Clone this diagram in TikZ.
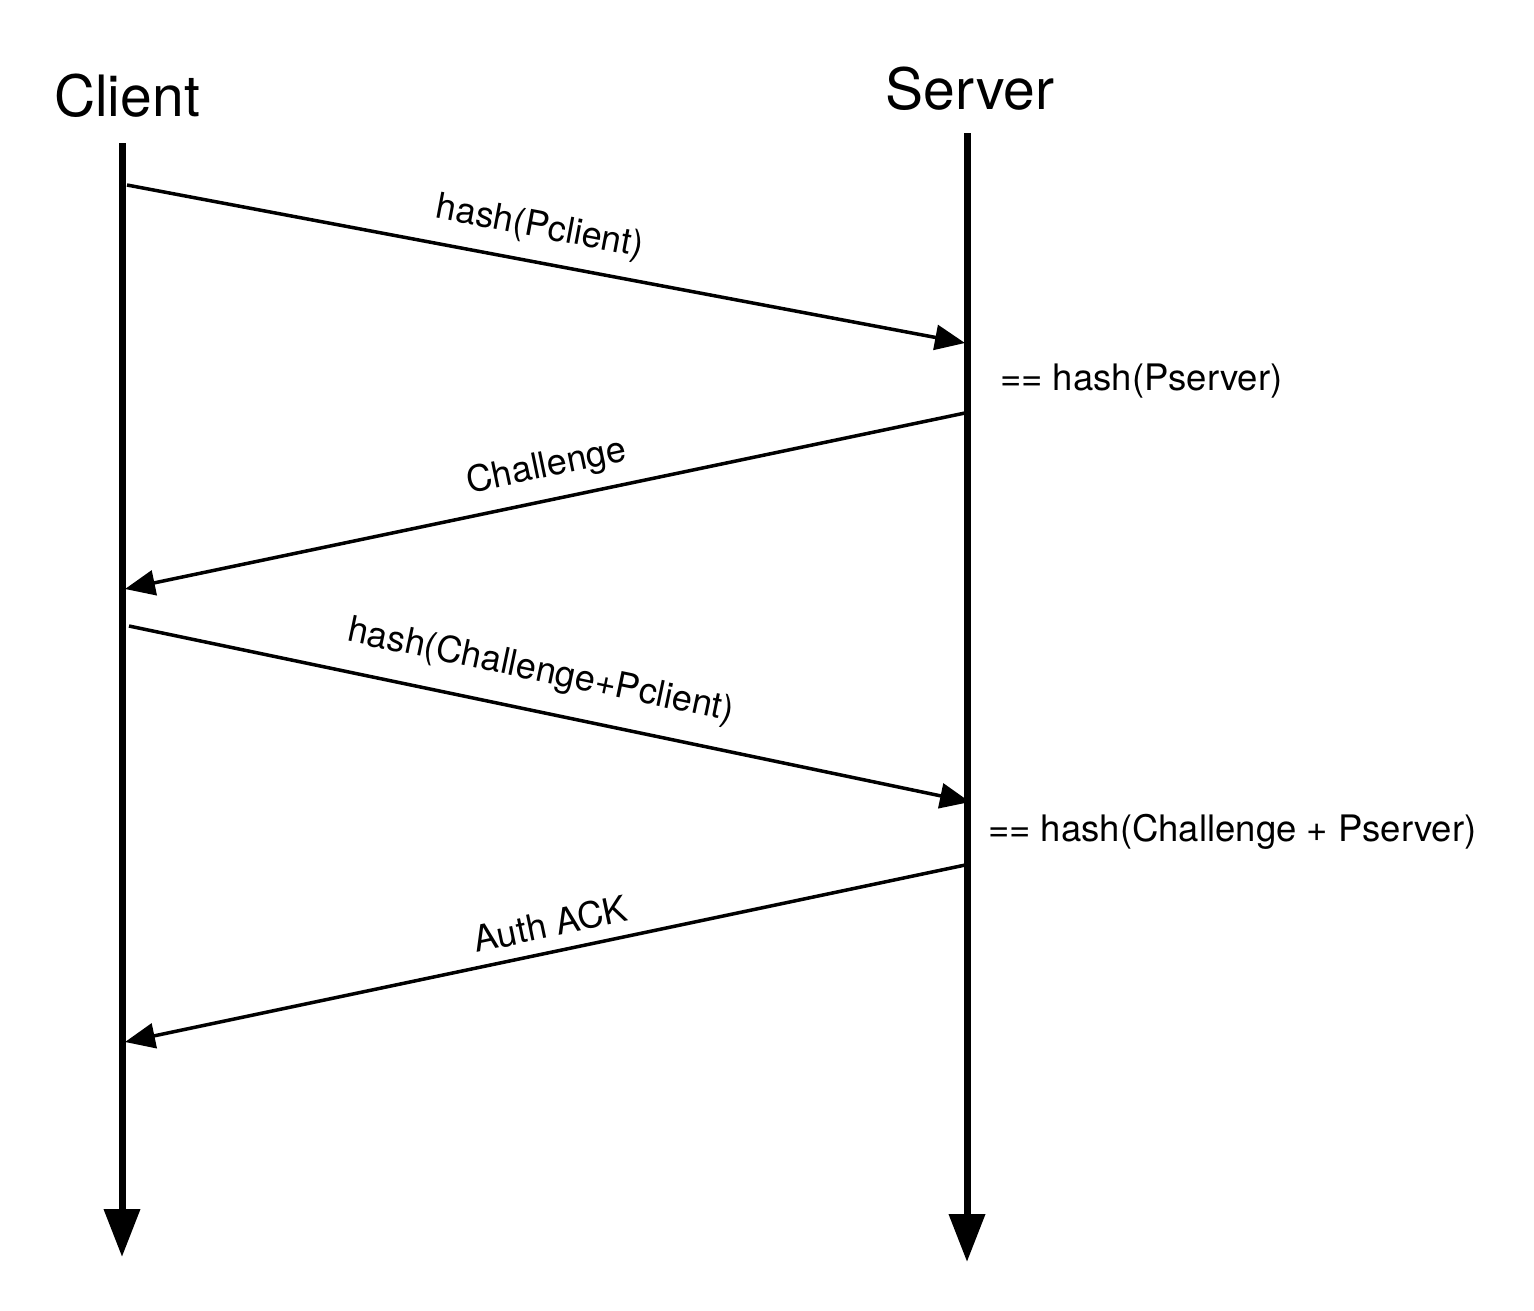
\documentclass[tikz,border=0pt]{standalone}
\usepackage{fontspec}
\setmainfont{TeX Gyre Heros}
\usetikzlibrary{arrows.meta}
\begin{document}
\begin{tikzpicture}[x=1pt,y=-1pt,
    actor/.style={font=\fontsize{57}{62}\selectfont},
    life/.style={line width=7pt,-{Triangle[length=48pt,width=35pt]}},
    msg/.style={line width=3.5pt,-{Triangle[length=30pt,width=25pt]}},
    lbl/.style={font=\fontsize{36}{40}\selectfont,sloped},
    note/.style={font=\fontsize{36.5}{40}\selectfont,anchor=west,inner sep=0pt}]
                \useasboundingbox (0,0) rectangle (1534,1310);
                \node[actor] at (127,96) (client) {Client};
                \node[actor] at (970,89) (server) {Server};

                % lifelines
                \coordinate (ctop) at (122,143);
                \coordinate (cend) at (122,1257);
                \coordinate (stop) at (967,133);
                \coordinate (send) at (967,1262);
                \draw[life] (ctop) -- (cend);
                \draw[life] (stop) -- (send);

                % message ends
                \coordinate (c1) at (127,185);
                \coordinate (s1) at (965,343);
                \coordinate (s2) at (965,413);
                \coordinate (c2) at (125,589);
                \coordinate (c3) at (129,626);
                \coordinate (s3) at (970,802);
                \coordinate (s4) at (970,864);
                \coordinate (c4) at (125,1042);

                \node[note] at (1000,381) (chk1) {== hash(Pserver)};
                \node[note] at (988,832) (chk2) {== hash(Challenge + Pserver)};

                \path[msg]
                    (c1) edge node [lbl, pos=0.485, above=12pt] {hash(Pclient)} (s1)
                    (s2) edge node [lbl, pos=0.49, above=10pt] {Challenge} (c2)
                    (c3) edge node [lbl, pos=0.48, above=17pt] {hash(Challenge+Pclient)} (s3)
                    (s4) edge node [lbl, pos=0.49, above=9pt] {Auth ACK} (c4)
                    ;
\end{tikzpicture}
\end{document}
